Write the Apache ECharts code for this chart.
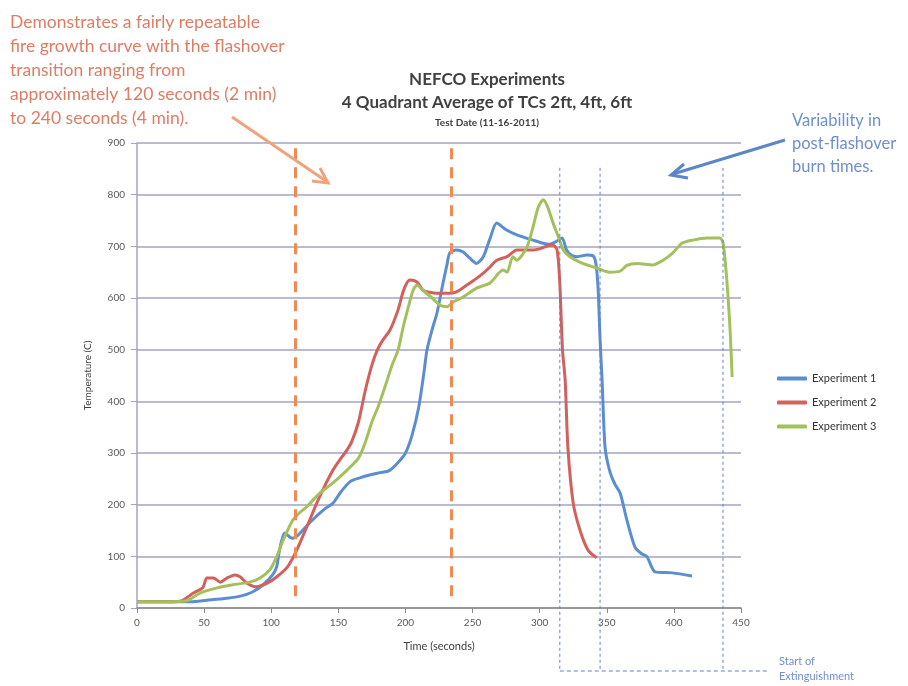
<!DOCTYPE html>
<html>
<head>
<meta charset="utf-8">
<script src="https://cdn.jsdelivr.net/npm/echarts@6/dist/echarts.min.js"></script>
<style>
html,body{margin:0;padding:0;background:#fff;}
#main{width:908px;height:686px;}
</style>
</head>
<body>
<div id="main"></div>
<script>
// ---- Data (time in seconds, temperature in C) ----
var exp1 = [[0,12],[20,12],[40,12],[52,15],[67,19],[77,23],[86,31],[94,45],[101,64],[104,79],[106,110],[108,132],[110,145],[114,137],[116,135],[120,141],[129,166],[139,190],[146,203],[152,225],[159,245],[166,252],[174,258],[181,262],[188,266],[194,280],[200,300],[205,335],[210,390],[214,460],[216,499],[220,540],[223.5,571],[228,629],[231,665],[233,687],[238,693],[243,689],[248,677],[253,667],[258,680],[263,715],[268,745],[275,732],[283,722],[290,716],[295,712],[302.6,706],[307,704],[311.5,708],[316.7,716],[320,693],[324,682],[328,680],[335,683],[340,681],[342,665],[343.5,620],[345,520],[346.5,441],[348.7,312],[352,267],[356,240],[360,222],[365,170],[371,118],[376,105],[380,99],[386,70],[399,68],[413.5,62]];
var exp2 = [[0,12],[20,12],[32,13],[42,29],[49,39],[52,58],[57,58],[62,50],[67,58],[73,64],[77,60],[82,48],[89,41],[97,48],[104,60],[112,79],[119,112],[126.5,157],[136,215],[146,267],[152,290],[156.5,306],[160,322],[165,360],[170,420],[175,470],[179,499],[183,518],[188.5,538],[194.5,577],[198,610],[201,629],[203.4,635],[208.6,631],[213,615],[218,611],[223.5,609],[233,609],[238,612],[243,620],[248,629],[253,638],[258,648],[263,660],[268,673],[275.7,680],[283,693],[290.6,693],[295,693],[300,695],[307.7,702],[310,702],[313,693],[315,629],[317,500],[319,441],[321,312],[325,203],[330,151],[336,112],[342.5,97]];
var exp3 = [[0,12],[20,12],[37,14],[47,29],[59.6,39],[71.5,45],[84,50],[91.6,58],[99,74],[104,99],[109,132],[116,170],[121,184],[126.5,196],[136,222],[146,242],[156.5,267],[165,290],[170,320],[175,360],[180,392],[185,430],[190,470],[194.5,499],[198,540],[201,571],[205.7,615],[208.6,625],[213,615],[219.8,600],[225.8,586],[231,583],[235.5,592],[243,602],[253,619],[263,629],[272.7,654],[275.7,650],[280,680],[283,673],[290.6,699],[295,737],[299,776],[302.6,790],[306,776],[310,745],[314,718],[317.6,693],[322.5,680],[332,667],[342.5,658],[352,650],[360,652],[365,663],[372.5,667],[384.5,664],[392,673],[399,687],[406,706],[414,712],[424.7,716],[434.4,716],[436.7,706],[439.6,629],[442,532],[443.4,447]];
var seriesNames = ['Experiment 1','Experiment 2','Experiment 3'];
var flashoverRange = [118, 234];          // orange dashed markers (s)
var extinguishTimes = [315, 345, 436.6];   // blue dotted markers (s)
var xTicks = [0,50,100,150,200,250,300,350,400,450];
var yTicks = [0,100,200,300,400,500,600,700,800,900];

var FONT = 'Lato, "Open Sans", sans-serif';
var chart = echarts.init(document.getElementById('main'), null, {renderer:'canvas'});
var gridColor = '#a3a3c2';

function lineSeries(name, data, color, extra) {
  var s = {
    name: name, type: 'line', data: data, showSymbol: false, smooth: 0.25,
    lineStyle: {width: 3, color: color}, itemStyle: {color: color}, z: 3
  };
  if (extra) for (var k in extra) s[k] = extra[k];
  return s;
}

var option = {
  backgroundColor: '#ffffff',
  animation: false,
  title: {
    text: 'NEFCO Experiments\n4 Quadrant Average of TCs 2ft, 4ft, 6ft',
    subtext: 'Test Date (11-16-2011)',
    left: 482, top: 63, textAlign: 'center', itemGap: 4,
    textStyle: {fontFamily: FONT, fontSize: 17, fontWeight: 'bold', color: '#404040', lineHeight: 23},
    subtextStyle: {fontFamily: FONT, fontSize: 10, fontWeight: 'bold', color: '#404040'}
  },
  legend: {
    orient: 'vertical', left: 772, top: 368, itemWidth: 30, itemHeight: 4, itemGap: 13,
    icon: 'roundRect',
    textStyle: {fontFamily: FONT, fontSize: 11, color: '#333333'},
    data: seriesNames
  },
  grid: {left: 137, right: 167, top: 143, bottom: 78, containLabel: false},
  xAxis: {
    type: 'value', min: 0, max: 450, interval: 50,
    name: 'Time (seconds)', nameLocation: 'middle', nameGap: 33,
    nameTextStyle: {fontFamily: FONT, fontSize: 11, color: '#404040'},
    axisLine: {lineStyle: {color: '#8c8c8c', width: 1.5}},
    axisTick: {show: true, length: 5, lineStyle: {color: '#8c8c8c'}},
    axisLabel: {fontFamily: FONT, fontSize: 10, color: '#595959', margin: 10},
    splitLine: {show: false}
  },
  yAxis: {
    type: 'value', min: 0, max: 900, interval: 100,
    name: 'Temperature (C)', nameLocation: 'middle', nameGap: 44, nameRotate: 90,
    nameTextStyle: {fontFamily: FONT, fontSize: 10, color: '#404040'},
    axisLine: {show: true, lineStyle: {color: gridColor, width: 1.5}},
    axisTick: {show: true, length: 6, lineStyle: {color: gridColor}},
    axisLabel: {fontFamily: FONT, fontSize: 10, color: '#595959', margin: 12},
    splitLine: {show: true, lineStyle: {color: gridColor, width: 1.5}}
  },
  series: [
    lineSeries(seriesNames[0], exp1, '#5b8ed0', {
      markLine: {
        silent: true, symbol: ['none','none'], label: {show: false},
        lineStyle: {color: '#ee8a52', width: 3, type: [11, 8]},
        data: flashoverRange.map(function (t) { return [{coord: [t, 890]}, {coord: [t, 15]}]; })
      }
    }),
    lineSeries(seriesNames[1], exp2, '#d2605c'),
    lineSeries(seriesNames[2], exp3, '#a4c05c')
  ]
};
chart.setOption(option);

// annotation graphics positioned from data coordinates where relevant
var g = [];
var blue = '#5c7fcf';
var yTop = chart.convertToPixel({gridIndex: 0}, [0, 852])[1];
var yBot = 671;
var xs = extinguishTimes.map(function (t) { return chart.convertToPixel({gridIndex: 0}, [t, 0])[0]; });
xs.forEach(function (x) {
  g.push({type: 'line', shape: {x1: x, y1: yTop, x2: x, y2: yBot}, z: 10,
    style: {stroke: blue, lineWidth: 1, lineDash: [3, 3]}});
});
g.push({type: 'line', shape: {x1: xs[0], y1: yBot, x2: 768, y2: yBot}, z: 10,
  style: {stroke: blue, lineWidth: 1.2, lineDash: [4, 3]}});
g.push({type: 'text', left: 779, top: 654, z: 10,
  style: {text: 'Start of\nExtinguishment', fill: '#6f8fcf', font: '11px ' + FONT, lineHeight: 15}});

// left annotation
g.push({type: 'text', left: 10, top: 10, z: 10,
  style: {text: 'Demonstrates a fairly repeatable\nfire growth curve with the flashover\ntransition ranging from\napproximately 120 seconds (2 min)\nto 240 seconds (4 min).',
    fill: '#dd7d66', font: '17.5px ' + FONT, lineHeight: 24}});
// orange arrow
g.push({type: 'line', shape: {x1: 232, y1: 117, x2: 326, y2: 181}, z: 10,
  style: {stroke: '#f0a27a', lineWidth: 3}});
g.push({type: 'polyline', shape: {points: [[312, 181], [328, 183], [320, 168]]}, z: 10,
  style: {stroke: '#f0a27a', lineWidth: 3, fill: null}});

// right annotation
g.push({type: 'text', left: 792, top: 109, z: 10,
  style: {text: 'Variability in\npost-flashover\nburn times.', fill: '#6f8fcf', font: '16.5px ' + FONT, lineHeight: 23}});
g.push({type: 'line', shape: {x1: 785, y1: 140, x2: 673, y2: 174}, z: 10,
  style: {stroke: '#5c86c8', lineWidth: 3}});
g.push({type: 'polyline', shape: {points: [[684, 164], [671, 175], [688, 178]]}, z: 10,
  style: {stroke: '#5c86c8', lineWidth: 3, fill: null}});

chart.setOption({graphic: g});
</script>
</body>
</html>
